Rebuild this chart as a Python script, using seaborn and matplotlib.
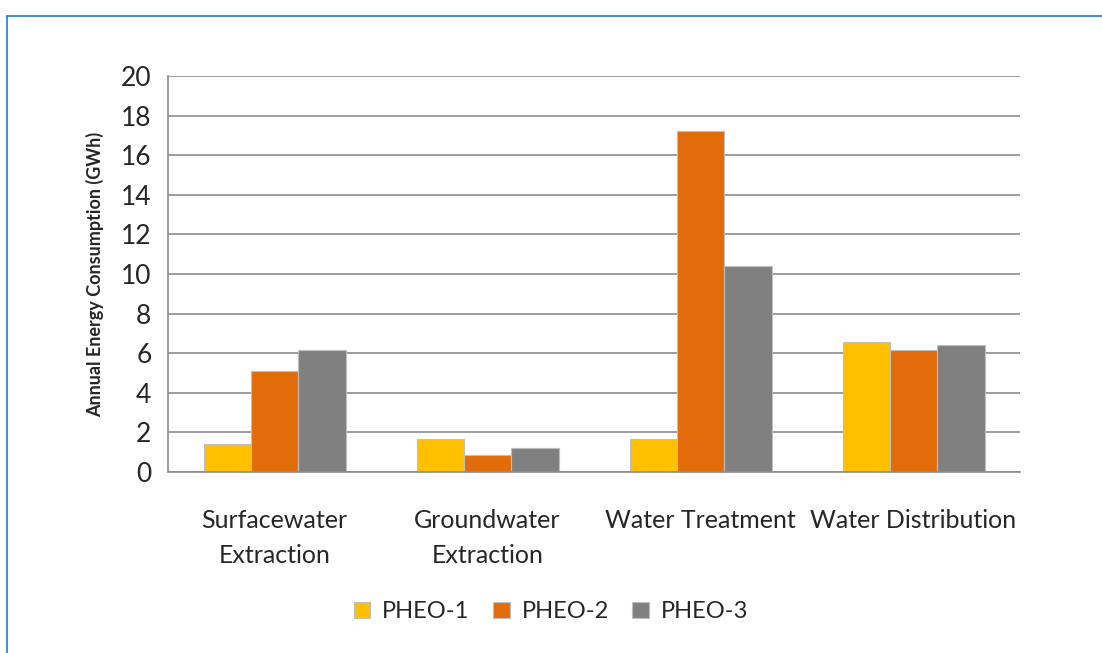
import matplotlib
matplotlib.use("Agg")
import matplotlib.pyplot as plt
import seaborn as sns
import pandas as pd
from matplotlib.lines import Line2D

# data
categories = ["Surfacewater\nExtraction", "Groundwater\nExtraction",
              "Water Treatment", "Water Distribution"]
series = ["PHEO-1", "PHEO-2", "PHEO-3"]
pheo1 = [1.43, 1.68, 1.68, 6.58]
pheo2 = [5.08, 0.87, 17.24, 6.14]
pheo3 = [6.18, 1.21, 10.39, 6.43]
colors = ["#FFC000", "#E36C0A", "#808080"]

rows = []
for name, vals in zip(series, [pheo1, pheo2, pheo3]):
    for cat, v in zip(categories, vals):
        rows.append({"category": cat, "series": name, "value": v})
df = pd.DataFrame(rows)

sns.set_style("white")
plt.rcParams["font.family"] = ["Lato", "DejaVu Sans"]

fig = plt.figure(figsize=(11.02, 6.53), dpi=100)
ax = fig.add_axes([0.1525, 0.2772, 0.7731, 0.6064])

sns.barplot(data=df, x="category", y="value", hue="series", order=categories,
            hue_order=series, palette=colors, saturation=1, width=2 / 3, gap=0,
            edgecolor="#BFBFBF", linewidth=0.8, ax=ax, legend=True)

grid_c = "#8C8C8C"
ax.set_ylim(0, 20)
ax.set_yticks(range(0, 21, 2))
ax.yaxis.grid(True, color=grid_c, linewidth=1.2)
ax.set_axisbelow(True)
ax.set_xlim(-0.5, 3.5)

# boundary ticks (major) and centred labels (minor)
ax.set_xticks([-0.5, 0.5, 1.5, 2.5, 3.5])
ax.set_xticklabels([])
ax.set_xticks([0, 1, 2, 3], minor=True)
ax.set_xticklabels(categories, minor=True, fontsize=18, linespacing=1.6)
ax.tick_params(axis="x", which="major", length=9, color=grid_c, width=1.2)
ax.tick_params(axis="x", which="minor", length=0, pad=27)
ax.tick_params(axis="y", length=7, color=grid_c, width=1.2, labelsize=19, pad=5)

for s in ["top", "right"]:
    ax.spines[s].set_visible(False)
for s in ["left", "bottom"]:
    ax.spines[s].set_color(grid_c)
    ax.spines[s].set_linewidth(1.2)

ax.set_xlabel("")
ax.set_ylabel("Annual Energy Consumption (GWh)", fontsize=13,
              fontweight="bold", labelpad=12)

handles, labels = ax.get_legend_handles_labels()
ax.legend(handles, labels, loc="center", bbox_to_anchor=(0.5, 0.063),
          bbox_transform=fig.transFigure, ncol=3, frameon=False,
          fontsize=17, handlelength=0.7, handleheight=0.7,
          handletextpad=0.5, columnspacing=1.0)

# blue frame of the original picture
fig.add_artist(Line2D([0.0064, 0.0064], [0, 0.9755], transform=fig.transFigure,
                      color="#2878C8", linewidth=1.2))
fig.add_artist(Line2D([0.0064, 1.0], [0.9755, 0.9755], transform=fig.transFigure,
                      color="#2878C8", linewidth=1.2))

fig.savefig("out.png", dpi=100)
